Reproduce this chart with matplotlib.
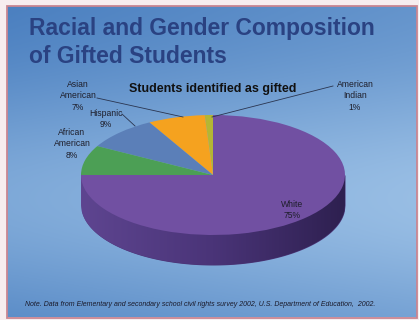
import matplotlib.pyplot as plt
import numpy as np
from matplotlib.colors import LinearSegmentedColormap

plt.rcParams['font.family'] = ['Liberation Sans', 'DejaVu Sans']

groups = ['American\nIndian', 'Asian\nAmerican', 'Hispanic', 'African\nAmerican', 'White']
shares = [1, 7, 9, 8, 75]
colors = ['#b3b634', '#f5a21f', '#5b7fb8', '#4c9f55', '#7150a2']

title_lines = ['Racial and Gender Composition', 'of Gifted Students']
subtitle = 'Students identified as gifted'
note = ('Note. Data from Elementary and secondary school civil rights survey 2002, '
        'U.S. Department of Education,  2002.')

W, H = 419, 320
fig = plt.figure(figsize=(W / 100, H / 100), dpi=100)
fig.patch.set_facecolor('#f7edef')

# background slide
bg = fig.add_axes([0, 0, 1, 1])
bg.set_xlim(0, W)
bg.set_ylim(H, 0)
bg.axis('off')
yy, xx = np.mgrid[0:1:200j, 0:1:200j]
dark = np.array([58, 114, 184]) / 255
light = np.array([160, 196, 232]) / 255
f = 0.12 + 0.25 * xx + 0.55 * np.exp(-((yy - 0.62) / 0.4) ** 2)
f = np.clip(f, 0, 1)[..., None]
img = dark + (light - dark) * f
bg.imshow(img, extent=(7, 416, 317, 6), aspect='auto', zorder=0)
bg.add_patch(plt.Rectangle((6.5, 5.5), 410, 312, fill=False,
                           edgecolor='#c98591', lw=1.3, zorder=1))

# pie as a flattened disc with a side
cx, cy, rx, ry, depth = 213, 175, 132, 60, 30
m = 1.02
d = depth / ry
pax = fig.add_axes([(cx - rx * m) / W, (H - (cy + ry * m + depth)) / H,
                    2 * rx * m / W, (2 * ry * m + depth) / H])
x = np.linspace(-1, 1, 400)
side = pax.fill_between(x, -np.sqrt(1 - x ** 2) - d, 0, color='#4a3475', lw=0, zorder=0.5)
grad = np.linspace(0, 1, 200)[None, :]
side_cmap = LinearSegmentedColormap.from_list('side', ['#5e4590', '#4a3478', '#2e2050'])
im = pax.imshow(grad, extent=(-1, 1, -1 - d, 0), aspect='auto', cmap=side_cmap, zorder=0.6)
im.set_clip_path(side.get_paths()[0], transform=pax.transData)
pax.pie(shares, colors=colors, startangle=90, counterclock=True,
        wedgeprops=dict(linewidth=0, zorder=2))
pax.set_aspect('auto')
pax.set_xlim(-m, m)
pax.set_ylim(-m - d, m)
pax.axis('off')

# text layer
tx = fig.add_axes([0, 0, 1, 1])
tx.set_xlim(0, W)
tx.set_ylim(H, 0)
tx.axis('off')

for line, yb in zip(title_lines, [35, 63]):
    tx.text(29, yb, line, fontsize=16.5, fontweight='bold', color='#2a4282',
            ha='left', va='baseline')
tx.text(213, 92, subtitle, fontsize=9, fontweight='bold', color='#111111',
        ha='center', va='baseline')

label_pos = [(355, 96), (78, 96), (106, 119), (72, 144), (292, 210)]
for g, s, (lx, ly) in zip(groups, shares, label_pos):
    tx.text(lx, ly, f'{g}\n{s}%', fontsize=6.2, color='#1e1e2a',
            ha='center', va='center', linespacing=1.3)

for (x0, y0), (x1, y1) in [((97, 98), (183, 117)),
                           ((122, 114), (135, 126)),
                           ((333, 86), (212, 117))]:
    tx.plot([x0, x1], [y0, y1], color='#2a3550', lw=0.6)

tx.text(25, 305, note, fontsize=5.0, style='italic', color='#1a1a2a',
        ha='left', va='center')

fig.savefig('out.png', dpi=100, facecolor=fig.get_facecolor())
